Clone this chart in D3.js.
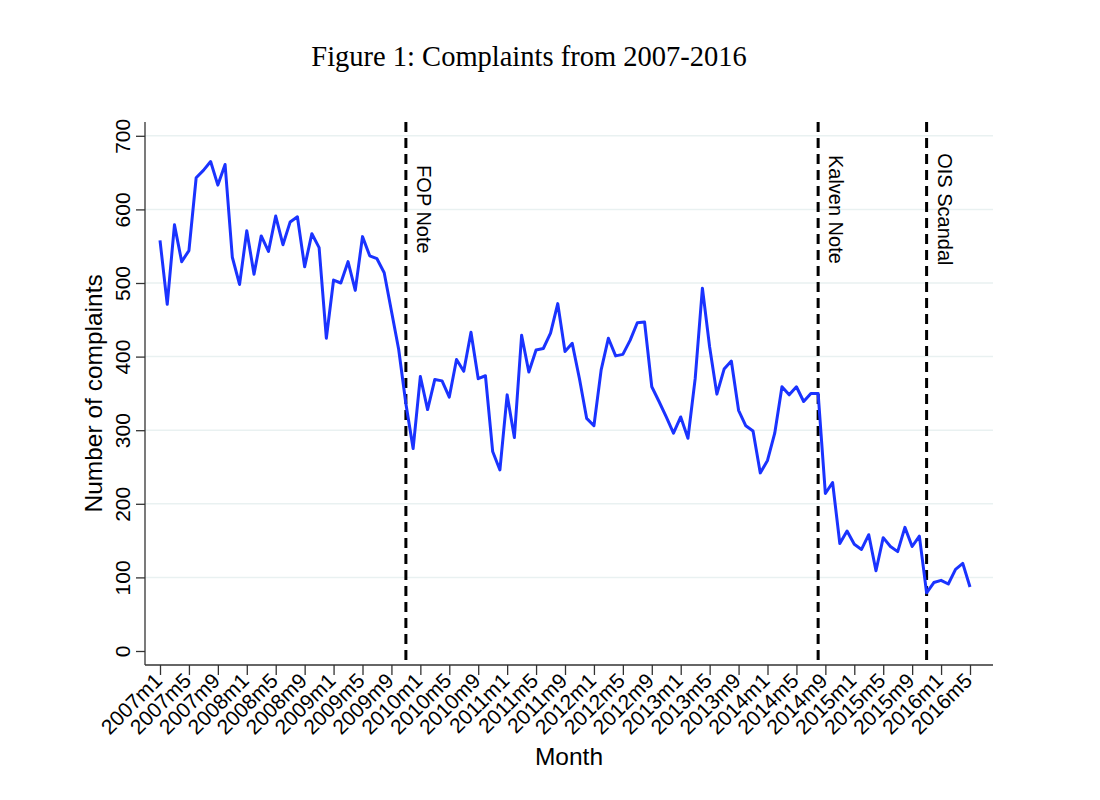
<!DOCTYPE html>
<meta charset="utf-8">
<style>
  body { margin: 0; background: #fff; }
  .line { fill: none; stroke: #1a33ff; stroke-width: 3; stroke-linejoin: round; }
  .grid line { stroke: #e9f1f1; stroke-width: 1.5; }
  .axis path, .axis line { stroke: #333; stroke-width: 1.3; }
  .axis text { font-family: "Liberation Sans", Arial, sans-serif; font-size: 21px; fill: #000; }
  .event { stroke: #000; stroke-width: 3; stroke-dasharray: 10 6; }
</style>
<body></body>
<script src="https://d3js.org/d3.v7.min.js"></script>
<script>

// first month of the series
var startYear = 2007, startMonth = 1;

// monthly complaint counts, 2007m1 .. 2016m5
var complaints = [
  558, 471, 579, 529, 544, 643, 653, 665, 633, 661, 535, 498,
  571, 512, 564, 543, 591, 552, 583, 590, 522, 567, 548, 425,
  504, 500, 529, 490, 563, 537, 533, 514, 462, 410, 336, 275,
  373, 328, 369, 367, 345, 396, 380, 433, 370, 374, 271, 246,
  348, 290, 429, 379, 409, 411, 432, 472, 407, 418, 370, 316,
  306, 382, 425, 401, 403, 422, 446, 447, 359, 339, 318, 296,
  318, 289, 370, 493, 413, 349, 383, 394, 327, 306, 299, 242,
  259, 296, 359, 348, 359, 339, 350, 350, 214, 229, 146, 163,
  145, 138, 158, 109, 154, 142, 135, 168, 142, 156, 79, 93,
  96, 91, 111, 119, 87
];

var tickLabels = ["2007m1", "2007m5", "2007m9", "2008m1", "2008m5", "2008m9",
  "2009m1", "2009m5", "2009m9", "2010m1", "2010m5", "2010m9", "2011m1", "2011m5",
  "2011m9", "2012m1", "2012m5", "2012m9", "2013m1", "2013m5", "2013m9", "2014m1",
  "2014m5", "2014m9", "2015m1", "2015m5", "2015m9", "2016m1", "2016m5"];

var yTicks = [0, 100, 200, 300, 400, 500, 600, 700];

var eventLabels = ["FOP Note", "Kalven Note", "OIS Scandal"];
var eventMonths = ["2009m11", "2014m8", "2015m11"];

// build month names for each value
var months = complaints.map(function(d, i) {
  var m = startMonth - 1 + i;
  return (startYear + Math.floor(m / 12)) + "m" + (m % 12 + 1);
});
var data = complaints.map(function(v, i) { return {month: months[i], value: v}; });

var W = 1100, H = 800;
var plot = {left: 145, right: 993, top: 122, bottom: 665};

var x = d3.scalePoint().domain(months).range([160, 970]);
var y = d3.scaleLinear().domain([0, 700]).range([651, 135.8]);

var svg = d3.select("body").append("svg")
    .attr("width", W)
    .attr("height", H);

// title
svg.append("text")
    .attr("x", 529).attr("y", 66)
    .attr("text-anchor", "middle")
    .style("font-family", "'Liberation Serif', 'DejaVu Serif', serif")
    .style("font-size", "28.5px")
    .text("Figure 1: Complaints from 2007-2016");

// gridlines
svg.append("g").attr("class", "grid")
  .selectAll("line")
  .data(yTicks.filter(function(d) { return d > 0; }))
  .join("line")
    .attr("x1", plot.left).attr("x2", plot.right)
    .attr("y1", function(d) { return y(d); })
    .attr("y2", function(d) { return y(d); });

// y axis
var yAxis = svg.append("g")
    .attr("class", "axis")
    .attr("transform", "translate(" + plot.left + ",0)")
    .call(d3.axisLeft(y).tickValues(yTicks).tickSize(9).tickSizeOuter(0));
yAxis.select(".domain").attr("d", "M0," + plot.top + "V" + plot.bottom);
yAxis.selectAll(".tick text")
    .attr("x", 0).attr("dy", 0)
    .attr("text-anchor", "middle")
    .attr("transform", "translate(-15,0) rotate(-90)");

// x axis
var xAxis = svg.append("g")
    .attr("class", "axis")
    .attr("transform", "translate(0," + plot.bottom + ")")
    .call(d3.axisBottom(x).tickValues(tickLabels).tickSize(10).tickSizeOuter(0));
xAxis.select(".domain").attr("d", "M" + plot.left + ",0H" + plot.right);
xAxis.selectAll(".tick text")
    .attr("x", 0).attr("y", 0).attr("dy", 0)
    .attr("text-anchor", "end")
    .attr("transform", "translate(3,17) rotate(-45)");

// axis titles
svg.append("text")
    .attr("transform", "translate(102," + y(350) + ") rotate(-90)")
    .attr("text-anchor", "middle")
    .style("font-family", "'Liberation Sans', Arial, sans-serif")
    .style("font-size", "24.5px")
    .text("Number of complaints");

svg.append("text")
    .attr("x", (plot.left + plot.right) / 2).attr("y", 765)
    .attr("text-anchor", "middle")
    .style("font-family", "'Liberation Sans', Arial, sans-serif")
    .style("font-size", "24.5px")
    .text("Month");

// event lines
var events = eventLabels.map(function(d, i) { return {label: d, month: eventMonths[i]}; });
var ev = svg.append("g").selectAll("g").data(events).join("g");
ev.append("line")
    .attr("class", "event")
    .attr("x1", function(d) { return x(d.month); })
    .attr("x2", function(d) { return x(d.month); })
    .attr("y1", plot.top).attr("y2", plot.bottom);
ev.append("text")
    .attr("transform", function(d) { return "translate(" + (x(d.month) + 11) + "," + y(600) + ") rotate(90)"; })
    .attr("text-anchor", "middle")
    .style("font-family", "'Liberation Sans', Arial, sans-serif")
    .style("font-size", "20px")
    .text(function(d) { return d.label; });

// complaints line
var line = d3.line()
    .x(function(d) { return x(d.month); })
    .y(function(d) { return y(d.value); });

svg.append("path")
    .datum(data)
    .attr("class", "line")
    .attr("d", line);

</script>
